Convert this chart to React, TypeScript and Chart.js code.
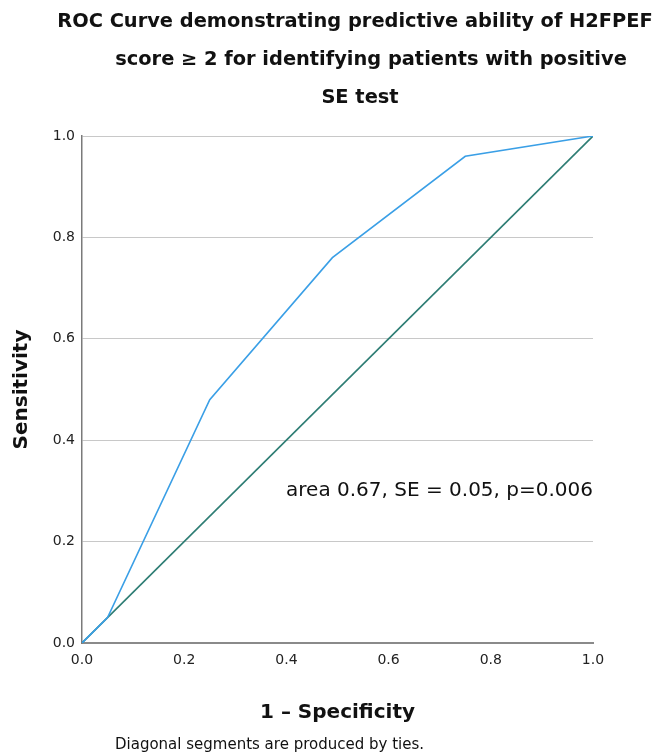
import React, { useEffect, useRef } from "react";
import { Chart, registerables } from "chart.js";

Chart.register(...registerables);

// ---- data ----
const titleLines = [
  "ROC Curve demonstrating predictive ability of H2FPEF",
  "score ≥ 2 for identifying patients with positive",
  "SE test",
];
const falsePositiveRate = [0, 0.05, 0.25, 0.49, 0.75, 1.0];
const sensitivityValues = [0, 0.05, 0.48, 0.76, 0.96, 1.0];
const referenceX = [0, 1];
const referenceY = [0, 1];
const xAxisTitle = "1 – Specificity";
const yAxisTitle = "Sensitivity";
const annotationText = "area 0.67, SE = 0.05, p=0.006";
const annotationX = 1.0;
const annotationY = 0.3;
const footnoteText = "Diagonal segments are produced by ties.";

const FONT = '"DejaVu Sans", "Liberation Sans", sans-serif';

const textPlugin = {
  id: "extraTexts",
  afterDraw(chart: any) {
    const { ctx, scales } = chart;
    const xs = scales.x;
    const ys = scales.y;
    ctx.save();
    ctx.fillStyle = "#111111";
    ctx.textBaseline = "middle";
    // title
    ctx.font = `bold 19.4px ${FONT}`;
    ctx.textAlign = "center";
    const centers = [355, 371, 360];
    titleLines.forEach((t, i) => ctx.fillText(t, centers[i], 22 + i * 38));
    // annotation
    ctx.font = `20px ${FONT}`;
    ctx.textAlign = "right";
    ctx.fillText(annotationText, xs.getPixelForValue(annotationX), ys.getPixelForValue(annotationY));
    // footnote
    ctx.font = `15px ${FONT}`;
    ctx.textAlign = "left";
    ctx.fillText(footnoteText, 115, 745);
    ctx.restore();
  },
};

export default function App() {
  const canvasRef = useRef<HTMLCanvasElement | null>(null);

  useEffect(() => {
    document.body.style.margin = "0";
    const canvas = canvasRef.current;
    if (!canvas) return;
    const chart = new Chart(canvas, {
      type: "scatter",
      data: {
        datasets: [
          {
            label: "ROC",
            data: falsePositiveRate.map((x, i) => ({ x, y: sensitivityValues[i] })),
            showLine: true,
            borderColor: "#3a9fe6",
            borderWidth: 1.6,
            pointRadius: 0,
            fill: false,
            tension: 0,
          },
          {
            label: "Reference",
            data: referenceX.map((x, i) => ({ x, y: referenceY[i] })),
            showLine: true,
            borderColor: "#2e7d74",
            borderWidth: 1.6,
            pointRadius: 0,
            fill: false,
          },
        ],
      },
      options: {
        animation: false,
        responsive: false,
        devicePixelRatio: 1,
        layout: { padding: { top: 136, right: 61, bottom: 0, left: 0 } },
        plugins: {
          legend: { display: false },
          tooltip: { enabled: false },
          title: { display: false },
        },
        scales: {
          x: {
            type: "linear",
            min: 0,
            max: 1,
            ticks: {
              stepSize: 0.2,
              padding: 9,
              color: "#222222",
              font: { family: FONT, size: 14 },
              callback: (v: any) => Number(v).toFixed(1),
            },
            grid: { display: false, drawTicks: false },
            border: { display: true, color: "#8a8a8a", width: 2 },
            title: {
              display: true,
              text: xAxisTitle,
              color: "#111111",
              font: { family: FONT, size: 20, weight: "bold" },
              padding: { top: 0, bottom: 27 },
            },
            afterFit: (scale: any) => {
              scale.height = 109;
            },
          },
          y: {
            type: "linear",
            min: 0,
            max: 1,
            ticks: {
              stepSize: 0.2,
              padding: 7,
              color: "#222222",
              font: { family: FONT, size: 14 },
              callback: (v: any) => Number(v).toFixed(1),
            },
            grid: { display: true, color: "#c8c8c8", lineWidth: 1, drawTicks: false },
            border: { display: true, color: "#7a7a7a", width: 1.5 },
            title: {
              display: true,
              text: yAxisTitle,
              color: "#111111",
              font: { family: FONT, size: 20, weight: "bold" },
              padding: { top: 10, bottom: 0 },
            },
            afterFit: (scale: any) => {
              scale.width = 82;
            },
          },
        },
      },
      plugins: [textPlugin],
    });
    return () => chart.destroy();
  }, []);

  return (
    <div style={{ width: 654, height: 752, background: "#ffffff" }}>
      <canvas ref={canvasRef} width={654} height={752} style={{ display: "block" }} />
    </div>
  );
}
